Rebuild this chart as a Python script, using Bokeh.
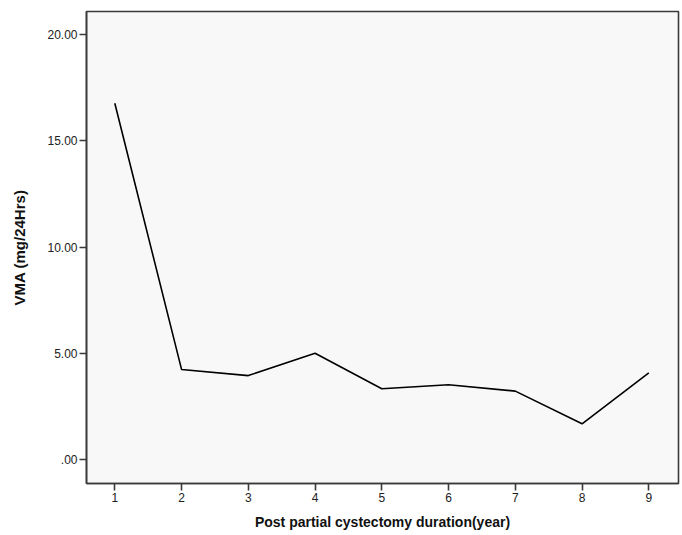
from bokeh.plotting import figure
from bokeh.models import Range1d, FixedTicker
from bokeh.embed import file_html
from bokeh.resources import INLINE

years = [1, 2, 3, 4, 5, 6, 7, 8, 9]
vma = [16.77, 4.24, 3.95, 5.00, 3.33, 3.52, 3.22, 1.68, 4.08]
y_ticks = [0, 5, 10, 15, 20]
y_tick_labels = [".00", "5.00", "10.00", "15.00", "20.00"]
x_ticks = years
x_label = "Post partial cystectomy duration(year)"
y_label = "VMA (mg/24Hrs)"

p = figure(width=680, height=533, output_backend="svg", toolbar_location=None,
           x_range=Range1d(0.576, 9.445), y_range=Range1d(-1.13, 21.09),
           min_border_left=86, min_border_top=11, min_border_right=2, min_border_bottom=50)
p.line(years, vma, line_color="black", line_width=1.6)

p.background_fill_color = "#f8f8f8"
p.border_fill_color = "white"
p.outline_line_color = "#3a3a3a"
p.outline_line_width = 1.6
p.xgrid.visible = False
p.ygrid.visible = False

for ax in (p.xaxis, p.yaxis):
    ax.major_tick_in = 0
    ax.major_tick_out = 7
    ax.minor_tick_line_color = None
    ax.axis_line_color = "#3a3a3a"
    ax.axis_line_width = 1.6
    ax.major_tick_line_color = "#3a3a3a"
    ax.major_tick_line_width = 1.6
    ax.major_label_text_font = "Liberation Sans"
    ax.major_label_text_font_size = "12px"
    ax.major_label_text_color = "#222222"
    ax.major_label_standoff = 2
    ax.axis_label_text_font = "Liberation Sans"
    ax.axis_label_text_font_style = "bold"
    ax.axis_label_text_color = "#111111"

p.xaxis.axis_label_text_font_size = "14px"
p.yaxis.axis_label_text_font_size = "15px"
p.xaxis.ticker = FixedTicker(ticks=x_ticks)
p.yaxis.ticker = FixedTicker(ticks=y_ticks)
p.yaxis.major_label_overrides = {t: l for t, l in zip(y_ticks, y_tick_labels)}
p.xaxis.axis_label = x_label
p.yaxis.axis_label = y_label
p.xaxis.axis_label_standoff = 9
p.yaxis.axis_label_standoff = 16

open("out.html", "w").write(file_html(p, INLINE))
